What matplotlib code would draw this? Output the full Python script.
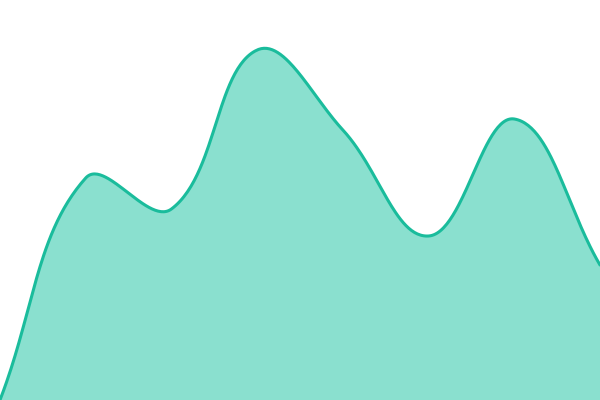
import numpy as np
import matplotlib
matplotlib.use("Agg")
import matplotlib.pyplot as plt

# values (pixel height 400 = axis top)
labels = ["A", "B", "C", "D", "E", "F", "G", "H"]
values = [0, 222, 191, 350, 270, 164, 281, 135]

LINE = "#1abc9c"
FILL = "#8ae0cf"
TENSION = 0.4


def spline_path(xs, ys, tension=TENSION, steps=60):
    """Chart.js-like cardinal spline through the points, sampled as cubic beziers."""
    pts = np.column_stack([xs, ys]).astype(float)
    n = len(pts)
    cp_prev = pts.copy()
    cp_next = pts.copy()
    for i in range(n):
        prev = pts[i - 1] if i > 0 else pts[i]
        nxt = pts[i + 1] if i < n - 1 else pts[i]
        d01 = np.hypot(*(pts[i] - prev))
        d12 = np.hypot(*(nxt - pts[i]))
        tot = d01 + d12
        s01 = d01 / tot if tot else 0
        s12 = d12 / tot if tot else 0
        cp_prev[i] = pts[i] - tension * s01 * (nxt - prev)
        cp_next[i] = pts[i] + tension * s12 * (nxt - prev)
    out = []
    t = np.linspace(0, 1, steps)[:, None]
    for i in range(n - 1):
        p0, p1, p2, p3 = pts[i], cp_next[i], cp_prev[i + 1], pts[i + 1]
        seg = ((1 - t) ** 3) * p0 + 3 * ((1 - t) ** 2) * t * p1 + 3 * (1 - t) * t ** 2 * p2 + t ** 3 * p3
        out.append(seg if i == 0 else seg[1:])
    out = np.vstack(out)
    return out[:, 0], out[:, 1]


fig = plt.figure(figsize=(6, 4), dpi=100)
ax = fig.add_axes([0, 0, 1, 1])

# x in pixel units so the spline distances match the rendered chart
xpix = np.linspace(0, 600, len(values))
sx, sy = spline_path(xpix, values)

ax.fill_between(sx, 0, sy, color=FILL, linewidth=0)
ax.plot(sx, sy, color=LINE, linewidth=2.2, solid_capstyle="round")

ax.set_xlim(0, 600)
ax.set_ylim(0, 400)
ax.axis("off")

fig.savefig("out.png", dpi=100)
